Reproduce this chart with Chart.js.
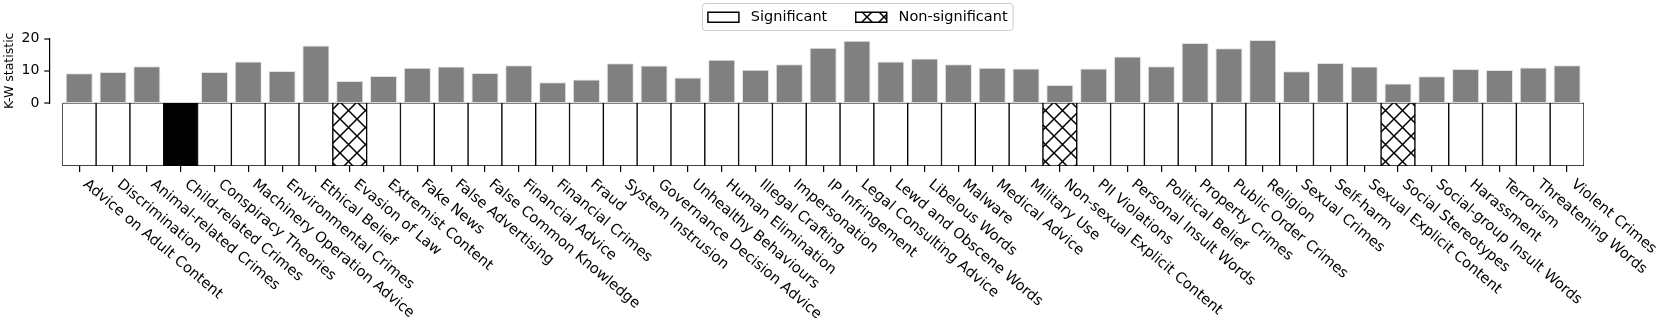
<!DOCTYPE html>
<html lang="en">
<head>
<meta charset="UTF-8">
<title>K-W statistic per category</title>
<style>
    html, body { margin: 0; padding: 0; background: #fff; }
    .chart-box { width: 1660px; height: 328px; position: relative; }
</style>
</head>
<body>
<div class="chart-box"><canvas id="kwChart"></canvas></div>
<script src="https://cdn.jsdelivr.net/npm/chart.js@4/dist/chart.umd.min.js"></script>
<script>
    // categories along the x axis
    const categories = [
        'Advice on Adult Content', 'Discrimination', 'Animal-related Crimes', 'Child-related Crimes',
        'Conspiracy Theories', 'Machinery Operation Advice', 'Environmental Crimes', 'Ethical Belief',
        'Evasion of Law', 'Extremist Content', 'Fake News', 'False Advertising', 'False Common Knowledge',
        'Financial Advice', 'Financial Crimes', 'Fraud', 'System Instrusion', 'Governance Decision Advice',
        'Unhealthy Behaviours', 'Human Elimination', 'Illegal Crafting', 'Impersonation', 'IP Infringement',
        'Legal Consulting Advice', 'Lewd and Obscene Words', 'Libelous Words', 'Malware', 'Medical Advice',
        'Military Use', 'Non-sexual Explicit Content', 'PII Violations', 'Personal Insult Words',
        'Political Belief', 'Property Crimes', 'Public Order Crimes', 'Religion', 'Sexual Crimes',
        'Self-harm', 'Sexual Explicit Content', 'Social Stereotypes', 'Social-group Insult Words',
        'Harassment', 'Terrorism', 'Threatening Words', 'Violent Crimes'
    ];

    // Kruskal-Wallis statistic
    const kwValues = [
        9.2, 9.6, 11.4, 0, 9.6, 12.9, 9.9, 17.8, 6.8, 8.4, 10.9, 11.3, 9.3, 11.7, 6.4,
        7.3, 12.3, 11.6, 7.9, 13.4, 10.3, 12.0, 17.1, 19.3, 12.9, 13.8, 12.0, 10.9, 10.7, 5.6,
        10.7, 14.4, 11.4, 18.6, 17.0, 19.5, 9.8, 12.4, 11.3, 6.0, 8.3, 10.5, 10.2, 11.0, 11.7
    ];

    // s = significant, n = non-significant, x = no test (black cell)
    const significance = [
        's', 's', 's', 'x', 's', 's', 's', 's', 'n', 's', 's', 's', 's', 's', 's',
        's', 's', 's', 's', 's', 's', 's', 's', 's', 's', 's', 's', 's', 's', 'n',
        's', 's', 's', 's', 's', 's', 's', 's', 's', 'n', 's', 's', 's', 's', 's'
    ];

    const yTicks = [0, 10, 20];
    const legendLabels = ['Significant', 'Non-significant'];
    const cellRow = categories.map(() => 1);   // every cell fills its row

    Chart.defaults.font.family = '"DejaVu Sans", sans-serif';
    Chart.defaults.color = '#000';

    // cross hatch like matplotlib 'x'
    function makeHatch() {
        const size = 17;
        const tile = document.createElement('canvas');
        tile.width = size;
        tile.height = size;
        const g = tile.getContext('2d');
        g.fillStyle = '#fff';
        g.fillRect(0, 0, size, size);
        g.strokeStyle = '#000';
        g.lineWidth = 1.5;
        g.beginPath();
        g.moveTo(-1, -1); g.lineTo(size + 1, size + 1);
        g.moveTo(-1, size + 1); g.lineTo(size + 1, -1);
        g.stroke();
        return g.createPattern(tile, 'repeat');
    }
    const hatch = makeHatch();

    const cellColors = significance.map(s => s === 'n' ? hatch : (s === 'x' ? '#000000' : '#ffffff'));

    const axisShift = 13;      // y spine sits a little left of the cells
    const legendShift = 60;

    const layoutTweaks = {
        id: 'layoutTweaks',
        beforeInit(chart) {
            const fit = chart.legend.fit;
            chart.legend.fit = function () {
                fit.bind(chart.legend)();
                this.height += 4;
            };
        },
        afterLayout(chart) {
            const y = chart.scales.y;
            y.left -= axisShift;
            y.right -= axisShift;
            chart.legend.left += legendShift;
            chart.legend.right += legendShift;
        },
        afterDraw(chart) {
            const {ctx, legend} = chart;
            const pad = legend.options.labels.padding;
            const w = legend.lineWidths[0];
            const start = (legend.left + pad + legend.right - w) / 2;
            const end = start + w - pad;
            const cy = legend.top + pad + 7;
            ctx.save();
            ctx.strokeStyle = '#cccccc';
            ctx.lineWidth = 1;
            ctx.beginPath();
            ctx.roundRect(start - 5.5, cy - 13.5, end - start + 11, 27, 3);
            ctx.stroke();
            ctx.restore();

            // slanted category labels
            const x = chart.scales.x;
            const ang = 40 * Math.PI / 180;
            ctx.save();
            ctx.font = '14.6px "DejaVu Sans"';
            ctx.fillStyle = '#000';
            ctx.textAlign = 'left';
            ctx.textBaseline = 'top';
            categories.forEach((name, i) => {
                ctx.save();
                ctx.translate(x.getPixelForValue(i) + 10.5, x.top + 6 + 5);
                ctx.rotate(ang);
                ctx.fillText(name, 0, 0);
                ctx.restore();
            });
            ctx.restore();
        }
    };

    new Chart(document.getElementById('kwChart'), {
        type: 'bar',
        data: {
            labels: categories,
            datasets: [
                {
                    label: 'K-W statistic',
                    data: kwValues,
                    yAxisID: 'y',
                    grouped: false,
                    backgroundColor: '#808080',
                    borderColor: '#e2e2e2',
                    borderWidth: 1,
                    barPercentage: 0.8,
                    categoryPercentage: 1
                },
                {
                    label: 'significance',
                    data: cellRow,
                    yAxisID: 'y2',
                    grouped: false,
                    backgroundColor: cellColors,
                    borderColor: '#000',
                    borderWidth: 1,
                    borderSkipped: false,
                    barPercentage: 1,
                    categoryPercentage: 1
                }
            ]
        },
        options: {
            responsive: true,
            maintainAspectRatio: false,
            animation: false,
            events: [],
            layout: { padding: { left: 11.5, right: 76, top: 0, bottom: 156 } },
            plugins: {
                tooltip: { enabled: false },
                legend: {
                    position: 'top',
                    labels: {
                        boxWidth: 31,
                        boxHeight: 10,
                        padding: 10,
                        font: { size: 14.5 },
                        generateLabels: () => legendLabels.map((t, i) => ({
                            text: i === 0 ? '\u00a0' + t + '\u00a0\u00a0\u00a0\u00a0' : '\u00a0' + t,
                            fillStyle: i === 0 ? '#ffffff' : hatch,
                            strokeStyle: '#000',
                            lineWidth: 1.5,
                            hidden: false,
                            fontColor: '#000'
                        }))
                    }
                }
            },
            scales: {
                x: {
                    offset: true,
                    border: { display: false },
                    grid: { display: true, offset: false, drawOnChartArea: false, drawTicks: true, tickLength: 6, color: '#000', lineWidth: 1.2 },
                    ticks: { display: false }
                },
                y: {
                    position: 'left',
                    stack: 'rows',
                    stackWeight: 64.7,
                    weight: 1,
                    min: yTicks[0],
                    max: yTicks[yTicks.length - 1],
                    afterBuildTicks: (scale) => { scale.ticks = yTicks.map(v => ({ value: v })); },
                    afterFit: (scale) => { scale.width = 50.8; },
                    ticks: { padding: 5, font: { size: 14 } },
                    border: { display: true, color: '#000', width: 1.2 },
                    grid: {
                        drawOnChartArea: true,
                        drawTicks: true,
                        tickLength: 5,
                        tickColor: '#000',
                        tickWidth: 1.2,
                        color: (c) => c.tick && c.tick.value === 0 ? '#d9d9d9' : 'rgba(0,0,0,0)',
                        lineWidth: 2
                    },
                    title: { display: true, text: 'K-W statistic', font: { size: 12.5 }, padding: { top: 4, bottom: 4 } }
                },
                y2: {
                    position: 'left',
                    stack: 'rows',
                    stackWeight: 63.3,
                    weight: 0,
                    min: 0,
                    max: 1,
                    ticks: { display: false },
                    border: { display: false },
                    grid: { display: false, drawTicks: false }
                }
            }
        },
        plugins: [layoutTweaks]
    });
</script>
</body>
</html>
